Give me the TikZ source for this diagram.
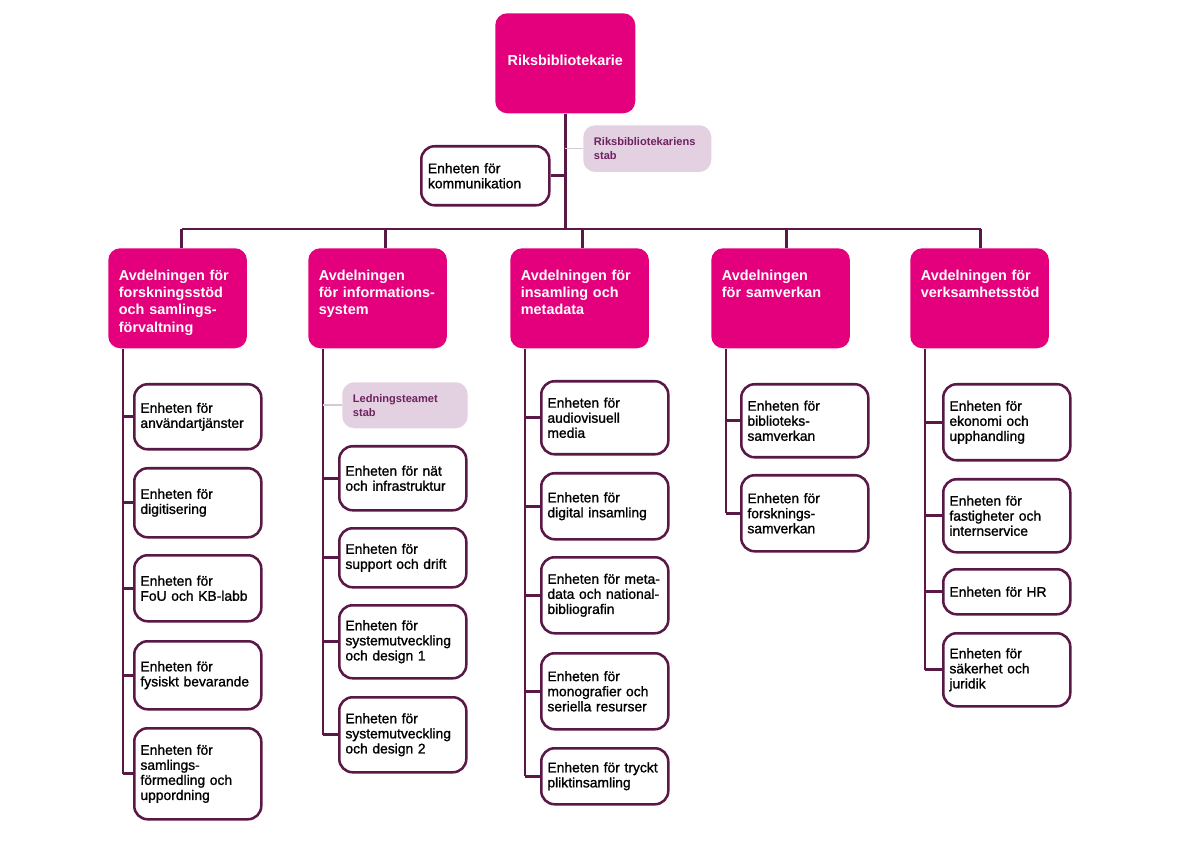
\documentclass[tikz,border=0pt]{standalone}
\usepackage{fontspec}
\setmainfont{Liberation Sans}
\newfontfamily\medel{Liberation Sans}[RawFeature={embolden=1.2}]
\usepackage{tikz}

\definecolor{kbrosa}{HTML}{E4007C}
\definecolor{kblinje}{HTML}{5A1846}
\definecolor{stabfyll}{HTML}{E3D0E1}
\definecolor{stabtext}{HTML}{6E2260}
\definecolor{stablinje}{HTML}{D8C8D4}

\begin{document}
\begin{tikzpicture}[x=0.75pt,y=-0.75pt,
    chef/.style={rectangle,rounded corners=9pt,fill=kbrosa,text=white,
      font=\fontsize{10.8}{13}\selectfont\bfseries,minimum width=105pt,
      minimum height=75pt,inner sep=0pt,anchor=north west},
    avd/.style={rectangle,rounded corners=9pt,fill=kbrosa,text=white,
      font=\fontsize{10.8}{13}\selectfont\bfseries,align=left,text width=88pt,
      inner xsep=8pt,inner ysep=6pt,text height=18pt,text depth=45pt,
      anchor=north west},
    enhet/.style={rectangle,rounded corners=10pt,draw=kblinje,line width=1.9pt,
      fill=white,font=\medel\fontsize{10.4}{11.3}\selectfont,align=left,
      text width=86pt,inner xsep=4.6pt,inner ysep=0pt,minimum width=95.25pt,
      anchor=north west},
    stab/.style={rectangle,rounded corners=9pt,fill=stabfyll,text=stabtext,
      font=\fontsize{8.3}{10.5}\selectfont\bfseries,align=left,
      inner xsep=8pt,inner ysep=0pt,anchor=north west},
    hoejd/.style={minimum height=#1*0.75pt},
    konn/.style={draw=kblinje,line width=2pt},
    stabkonn/.style={draw=stablinje,line width=1.2pt}]
  \fill[white] (0,0) rectangle (1189,841);
  \useasboundingbox (0,0) rectangle (1189,841);

  % ledning
  \node[chef] (rb) at (495,13) {\raisebox{4pt}{Riksbibliotekarie}};
  \node[stab,text width=80pt,minimum width=96pt,minimum height=35pt] (rbstab) at (583,125) {Riksbibliotekariens\\stab};
  \node[enhet,text width=86pt,minimum width=96pt,hoejd=59] (komm) at (420,145) {Enheten för\\kommunikation};
  \coordinate (bar) at (565,229);

  % avdelningar
  \node[avd] (avd1) at (108,248) {Avdelningen för\\forskningsstöd\\och samlings-\\förvaltning};
  \node[avd] (avd2) at (308,248) {Avdelningen\\för informations-\\system};
  \node[avd] (avd3) at (510,248) {Avdelningen för\\insamling och\\metadata};
  \node[avd] (avd4) at (711,248) {Avdelningen\\för samverkan};
  \node[avd] (avd5) at (910,248) {Avdelningen för\\verksamhetsstöd};

  % enheter
  \node[enhet,hoejd=65] (c1a) at (133,383) {Enheten för\\användartjänster};
  \node[enhet,hoejd=69] (c1b) at (133,467) {Enheten för\\digitisering};
  \node[enhet,hoejd=66] (c1c) at (133,554) {Enheten för\\FoU och KB-labb};
  \node[enhet,hoejd=68] (c1d) at (133,640) {Enheten för\\fysiskt bevarande};
  \node[enhet,hoejd=91] (c1e) at (133,727) {Enheten för\\samlings-\\förmedling och\\uppordning};

  \node[stab,text width=78pt,minimum width=94pt,minimum height=34.5pt] (ledstab) at (342,382) {Ledningsteamet\\stab};
  \node[enhet,hoejd=64] (c2a) at (338,445) {Enheten för nät\\och infrastruktur};
  \node[enhet,hoejd=59] (c2b) at (338,527) {Enheten för\\support och drift};
  \node[enhet,hoejd=73] (c2c) at (338,604) {Enheten för\\systemutveckling\\och design 1};
  \node[enhet,hoejd=75] (c2d) at (338,696) {Enheten för\\systemutveckling\\och design 2};

  \node[enhet,hoejd=73] (c3a) at (540,380) {Enheten för\\audiovisuell\\media};
  \node[enhet,hoejd=66] (c3b) at (540,472) {Enheten för\\digital insamling};
  \node[enhet,hoejd=76] (c3c) at (540,556) {Enheten~för~meta-\\data~och~national-\\bibliografin};
  \node[enhet,hoejd=76] (c3d) at (540,652) {Enheten för\\monografier och\\seriella resurser};
  \node[enhet,hoejd=56] (c3e) at (540,747) {Enheten~för~tryckt\\pliktinsamling};

  \node[enhet,hoejd=73] (c4a) at (740,383) {Enheten för\\biblioteks-\\samverkan};
  \node[enhet,hoejd=76] (c4b) at (740,474) {Enheten för\\forsknings-\\samverkan};

  \node[enhet,hoejd=76] (c5a) at (942,383) {Enheten för\\ekonomi och\\upphandling};
  \node[enhet,hoejd=73] (c5b) at (942,478) {Enheten för\\fastigheter och\\internservice};
  \node[enhet,hoejd=45] (c5c) at (942,568) {Enheten för HR};
  \node[enhet,hoejd=73] (c5d) at (942,632) {Enheten för\\säkerhet och\\juridik};

  % linjer
  \draw[konn] (rb.south) -- (rb.south |- bar);
  \draw[konn] (komm.east) -- (komm.east -| rb.south);
  \draw[stabkonn] (rbstab.west) -- (rbstab.west -| rb.south);
  \foreach \k/\dx in {1/3pt,2/6pt,3/2.25pt,4/4.5pt,5/0.75pt}
    \coordinate (t\k) at ([xshift=\dx]avd\k.north);
  \draw[konn] (t1 |- bar) -- (t5 |- bar);
  \foreach \k in {1,...,5}
    \draw[konn] (t\k) -- (t\k |- bar);
  \foreach \k in {1,...,5}
    \coordinate (s\k) at ([xshift=11.25pt]avd\k.south west);
  \foreach \k/\sista in {1/e,2/d,3/e,4/b,5/d}
    \draw[konn] (s\k) -- (s\k |- c\k\sista.west);
  \foreach \k/\barn in {1/{a,b,c,d,e},2/{a,b,c,d},3/{a,b,c,d,e},4/{a,b},5/{a,b,c,d}}
    \foreach \b in \barn
      \draw[konn] (c\k\b.west) -- (c\k\b.west -| s\k);
  \draw[stabkonn] (ledstab.west) -- (ledstab.west -| s2);
\end{tikzpicture}
\end{document}
